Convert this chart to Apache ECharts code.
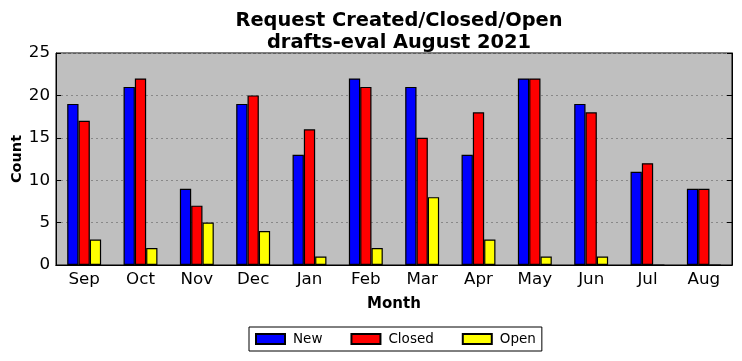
<!DOCTYPE html>
<html><head><meta charset="utf-8">
<script src="https://cdn.jsdelivr.net/npm/echarts@6/dist/echarts.min.js"></script>
<style>html,body{margin:0;padding:0;background:#fff}#c{width:742px;height:361px}</style>
</head><body><div id="c"></div>
<script>
var months = ['Sep','Oct','Nov','Dec','Jan','Feb','Mar','Apr','May','Jun','Jul','Aug'];
var newVals = [19,21,9,19,13,22,21,13,22,19,11,9];
var closedVals = [17,22,7,20,16,21,15,18,22,18,12,9];
var openVals = [3,2,5,4,1,2,8,3,1,1,0,0];
var yTicks = {min:0, max:25, interval:5};

var font = 'DejaVu Sans';
var chart = echarts.init(document.getElementById('c'), null, {renderer:'canvas'});
function ser(name, data, color){
  return {name:name, type:'bar', data:data, barWidth:11.3, barGap:'0%',
    xAxisIndex:0, yAxisIndex:0,
    itemStyle:{color:color, borderColor:'#000', borderWidth:1.2}};
}
chart.setOption({
  animation:false,
  textStyle:{fontFamily:font},
  title:{text:'Request Created/Closed/Open\ndrafts-eval August 2021', left:394, textAlign:'center', top:5,
    textStyle:{fontFamily:font, fontWeight:'bold', fontSize:19.4, color:'#000', lineHeight:22}},
  grid:{left:56, right:10, top:53, bottom:96, containLabel:false, outerBoundsMode:'none',
    show:true, backgroundColor:'#bfbfbf', borderColor:'#000', borderWidth:1},
  legend:{bottom:10, left:249, icon:'rect', itemWidth:29, itemHeight:10, itemGap:28,
    borderColor:'#000', borderWidth:1, padding:[5,6,5,6], borderRadius:0,
    textStyle:{fontFamily:font, fontSize:13.5, color:'#000', padding:[0,0,0,3]},
    data:['New','Closed','Open']},
  xAxis:[{type:'category', data:months, position:'bottom',
    name:'Month', nameLocation:'middle', nameGap:32, nameMoveOverlap:false,
    nameTextStyle:{fontFamily:font, fontWeight:'bold', fontSize:15, color:'#000'},
    axisLine:{lineStyle:{color:'#000'}},
    axisTick:{inside:true, alignWithLabel:true, length:5, lineStyle:{color:'#000'}},
    axisLabel:{fontFamily:font, fontSize:16.7, color:'#000', margin:6},
    splitLine:{show:false}},
   {type:'category', data:months, position:'top',
    axisLine:{lineStyle:{color:'#000'}},
    axisTick:{inside:true, alignWithLabel:true, length:5, lineStyle:{color:'#000'}},
    axisLabel:{show:false}, splitLine:{show:false}}],
  yAxis:[{type:'value', min:yTicks.min, max:yTicks.max, interval:yTicks.interval,
    name:'Count', nameLocation:'middle', nameGap:31, nameMoveOverlap:false,
    nameTextStyle:{fontFamily:font, fontWeight:'bold', fontSize:14.5, color:'#000'},
    axisLine:{show:true, lineStyle:{color:'#000'}},
    axisTick:{show:true, inside:true, length:5, lineStyle:{color:'#000'}},
    axisLabel:{fontFamily:font, fontSize:16.7, color:'#000', margin:6},
    splitLine:{show:true, lineStyle:{color:'#888', type:[2,3], width:1}}},
   {type:'value', min:yTicks.min, max:yTicks.max, interval:yTicks.interval, position:'right',
    axisLine:{show:true, lineStyle:{color:'#000'}},
    axisTick:{show:true, inside:true, length:5, lineStyle:{color:'#000'}},
    axisLabel:{show:false}, splitLine:{show:false}}],
  series:[ser('New', newVals, '#0000ff'), ser('Closed', closedVals, '#ff0000'), ser('Open', openVals, '#ffff00')]
});
</script></body></html>
